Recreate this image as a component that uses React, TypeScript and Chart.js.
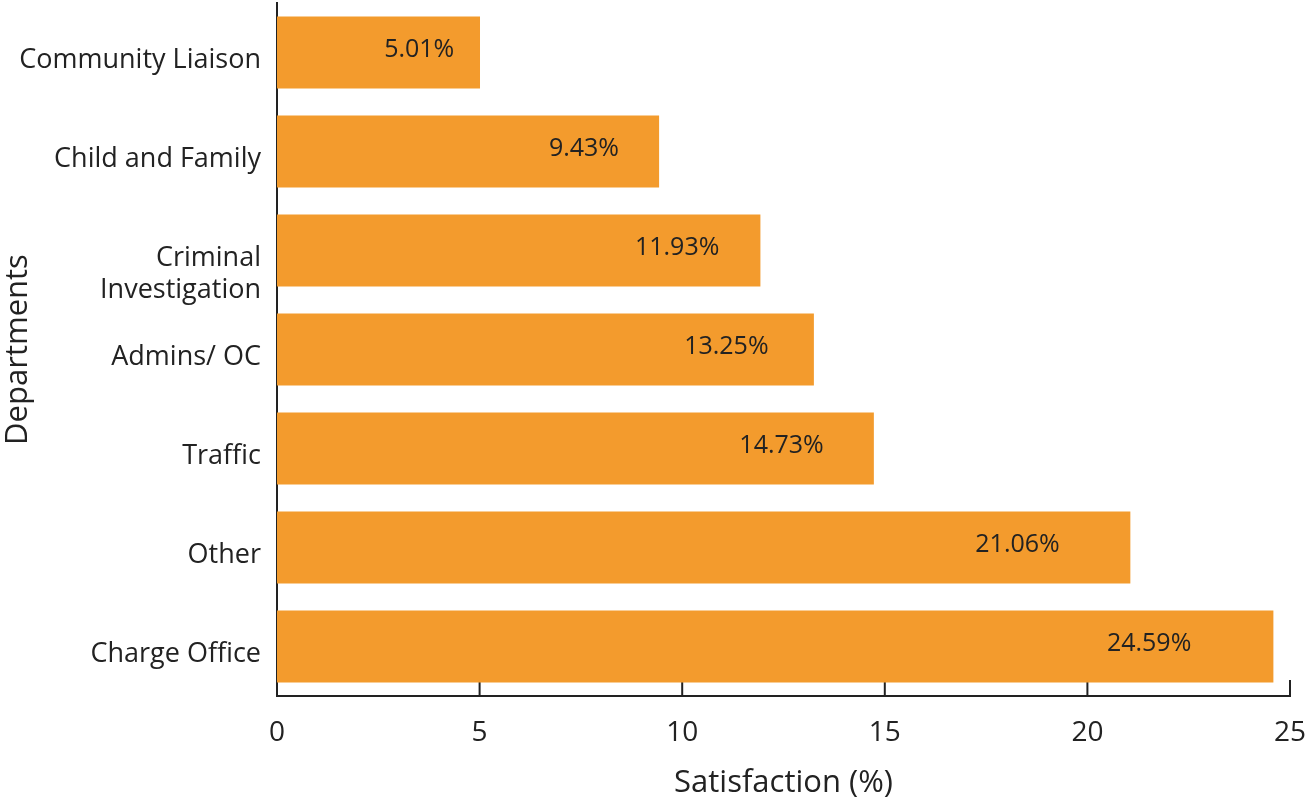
import React, { useEffect, useRef } from "react";
import { Chart, registerables } from "chart.js";

Chart.register(...registerables);

const departments: (string | string[])[] = [
  "Community Liaison",
  "Child and Family",
  ["", "Criminal", "Investigation"],
  "Admins/ OC",
  "Traffic",
  "Other",
  "Charge Office",
];
const satisfaction: number[] = [5.01, 9.43, 11.93, 13.25, 14.73, 21.06, 24.59];
const xTicks: number[] = [0, 5, 10, 15, 20, 25];

const INK = "#222222";
const BAR = "#F39B2D";
const FONT = "'Open Sans', 'Noto Sans', sans-serif";

// inward tick marks on the value axis, drawn beneath the bars
const innerTicks = {
  id: "innerTicks",
  beforeDatasetsDraw(chart: any) {
    const { ctx, scales } = chart;
    const x = scales.x;
    ctx.save();
    ctx.strokeStyle = INK;
    ctx.lineWidth = 2;
    x.ticks.forEach((t: any) => {
      const px = x.getPixelForValue(t.value);
      ctx.beginPath();
      ctx.moveTo(px, x.top);
      ctx.lineTo(px, x.top - 16);
      ctx.stroke();
    });
    ctx.restore();
  },
};

// percentage labels inside each bar
const valueLabels = {
  id: "valueLabels",
  afterDatasetsDraw(chart: any) {
    const { ctx, scales } = chart;
    const meta = chart.getDatasetMeta(0);
    ctx.save();
    ctx.fillStyle = INK;
    ctx.font = `25px ${FONT}`;
    ctx.textAlign = "center";
    ctx.textBaseline = "middle";
    meta.data.forEach((bar: any, i: number) => {
      const v = satisfaction[i];
      const cx = scales.x.getPixelForValue(v * 0.92 - 1.1);
      ctx.fillText(`${v.toFixed(2)}%`, cx, bar.y - 3);
    });
    ctx.restore();
  },
};

export default function App() {
  const canvasRef = useRef<HTMLCanvasElement | null>(null);

  useEffect(() => {
    document.body.style.margin = "0";
    const canvas = canvasRef.current;
    if (!canvas) return;
    const chart = new Chart(canvas, {
      type: "bar",
      data: {
        labels: departments,
        datasets: [
          {
            data: satisfaction,
            backgroundColor: BAR,
            borderWidth: 0,
            barPercentage: 0.727,
            categoryPercentage: 1,
          },
        ],
      },
      options: {
        indexAxis: "y",
        animation: false,
        responsive: true,
        maintainAspectRatio: false,
        layout: { padding: { top: 3, right: 17, left: 0, bottom: 0 } },
        plugins: {
          legend: { display: false },
          tooltip: { enabled: false },
        },
        scales: {
          x: {
            min: 0,
            max: 25,
            afterBuildTicks: (scale: any) => {
              scale.ticks = xTicks.map((value) => ({ value }));
            },
            afterFit: (scale: any) => {
              scale.height = 106;
              scale.paddingLeft = 0;
              scale.paddingRight = 0;
            },
            grid: { display: false, drawTicks: false },
            border: { display: true, color: INK, width: 2 },
            ticks: {
              color: INK,
              font: { family: FONT, size: 28 },
              padding: 20,
              maxRotation: 0,
            },
            title: {
              display: true,
              text: "Satisfaction (%)",
              color: INK,
              font: { family: FONT, size: 31 },
              padding: { top: 6, bottom: 0 },
            },
          },
          y: {
            afterFit: (scale: any) => {
              scale.width = 277;
              scale.paddingTop = 0;
              scale.paddingBottom = 0;
            },
            grid: { display: false, drawTicks: false },
            border: { display: true, color: INK, width: 2 },
            ticks: {
              color: INK,
              font: { family: FONT, size: 27, lineHeight: 1.19 },
              padding: 16,
              labelOffset: 8,
              autoSkip: false,
            },
            title: {
              display: true,
              text: "Departments",
              color: INK,
              font: { family: FONT, size: 31 },
              padding: { top: 0, bottom: 0 },
            },
          },
        },
      },
      plugins: [innerTicks, valueLabels],
    });
    return () => chart.destroy();
  }, []);

  return (
    <div style={{ position: "relative", width: 1307, height: 802 }}>
      <canvas ref={canvasRef} />
    </div>
  );
}
